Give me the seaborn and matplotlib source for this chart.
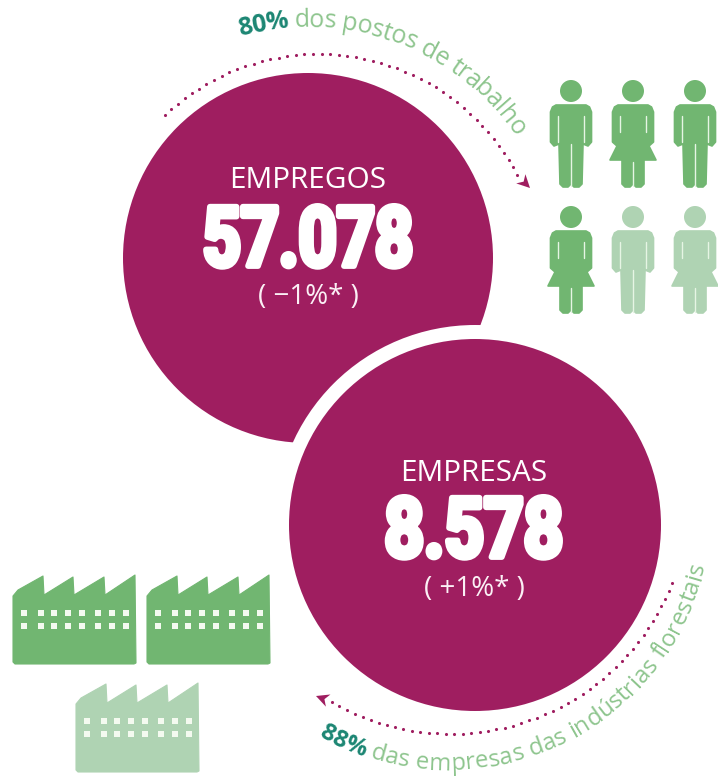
import numpy as np
import pandas as pd
import matplotlib
matplotlib.use("Agg")
import matplotlib.pyplot as plt
import matplotlib.patheffects as pe
from matplotlib.patches import Circle, Polygon
from matplotlib.transforms import Affine2D
from matplotlib.font_manager import FontProperties
from matplotlib.textpath import text_to_path
import seaborn as sns

# --- content ---
titles = ["EMPREGOS", "EMPRESAS"]
totals = ["57.078", "8.578"]
changes = ["( −1%* )", "( +1%* )"]
share_jobs = "80%"
share_firms = "88%"
caption_jobs = " dos postos de trabalho"
caption_firms = " das empresas das indústrias florestais"
people_kinds = ["m", "w", "m", "w", "m", "w"]
people_filled = [True, True, True, True, False, False]
factory_filled = [True, True, False]

# --- style ---
PURPLE = "#9F1E60"
GREEN = "#71B671"
PALE = "#AFD3B3"
CAPTION = "#8EC58E"
TEAL = "#1C8673"
BODY = ["Open Sans", "DejaVu Sans"]
BLACK = ["Roboto", "DejaVu Sans"]

sns.set_theme(style="white")
fig, ax = plt.subplots(figsize=(7.18, 7.78), dpi=100)
fig.subplots_adjust(0, 0, 1, 1)
ax.set_xlim(0, 718)
ax.set_ylim(778, 0)
ax.set_axis_off()


class Narrow(pe.AbstractPathEffect):
    """Condense a text's glyphs around a vertical line, with a white stroke."""

    def __init__(self, pivot, sx, stroke):
        super().__init__()
        self.pivot, self.sx, self.stroke = pivot, sx, stroke

    def draw_path(self, renderer, gc, tpath, affine, rgbFace=None):
        a = affine + Affine2D().translate(-self.pivot, 0).scale(self.sx, 1).translate(self.pivot, 0)
        gc0 = renderer.new_gc()
        gc0.copy_properties(gc)
        gc0.set_foreground("white")
        gc0.set_linewidth(self.stroke)
        gc0.set_joinstyle("round")
        renderer.draw_path(gc0, tpath, a, rgbFace)
        gc0.restore()


def circle3(p1, p2, p3):
    (a, b), (c, d), (e, f) = p1, p2, p3
    A = np.array([[2 * (c - a), 2 * (d - b)], [2 * (e - a), 2 * (f - b)]])
    y = np.array([c**2 + d**2 - a**2 - b**2, e**2 + f**2 - a**2 - b**2])
    cen = np.linalg.solve(A, y)
    return cen, float(np.hypot(*(np.array(p1) - cen)))


def advance(ch, prop, size):
    p = prop.copy()
    p.set_size(size)
    w = lambda s: text_to_path.get_text_width_height_descent(s, p, False)[0]
    return w("n" + ch + "n") - w("nn")


def curved(parts, p1, p2, p3, clockwise, size):
    cen, r = circle3(p1, p2, p3)
    t0 = np.arctan2(p1[1] - cen[1], p1[0] - cen[0])
    t1 = np.arctan2(p3[1] - cen[1], p3[0] - cen[0])
    sign = 1 if clockwise else -1
    span = (sign * (t1 - t0)) % (2 * np.pi)
    chars = []
    for text, color, weight in parts:
        prop = FontProperties(family=BODY, weight=weight)
        for ch in text:
            chars.append((ch, color, weight, advance(ch, prop, size) * 100 / 72))
    total = sum(c[3] for c in chars)
    k = span * r / total
    s = 0.0
    for ch, color, weight, adv in chars:
        mid = (s + adv / 2) * k
        t = t0 + sign * mid / r
        x, y = cen[0] + r * np.cos(t), cen[1] + r * np.sin(t)
        rot = -np.degrees(t + sign * np.pi / 2)
        ax.text(x, y, ch, color=color, fontsize=size, fontweight=weight,
                family=BODY, rotation=rot, rotation_mode="anchor",
                ha="center", va="baseline")
        s += adv


def dotted(p1, p2, p3, clockwise, tip):
    cen, r = circle3(p1, p2, p3)
    t0 = np.arctan2(p1[1] - cen[1], p1[0] - cen[0])
    t1 = np.arctan2(p3[1] - cen[1], p3[0] - cen[0])
    sign = 1 if clockwise else -1
    span = (sign * (t1 - t0)) % (2 * np.pi)
    n = int(span * r / 8.3)
    ts = t0 + sign * np.linspace(0, span, n)
    dots = pd.DataFrame({"x": cen[0] + r * np.cos(ts), "y": cen[1] + r * np.sin(ts)})
    sns.scatterplot(data=dots, x="x", y="y", ax=ax, color=PURPLE, s=5, linewidth=0,
                    legend=False, zorder=3)
    tip = np.array(tip, float)
    d = tip - np.array(p3, float)
    d /= np.hypot(*d)
    nrm = np.array([-d[1], d[0]])
    base = tip - d * 13
    ax.add_patch(Polygon([tip, base + nrm * 6.5, tip - d * 9, base - nrm * 6.5],
                         closed=True, fc=PURPLE, ec="none", zorder=3))


# --- discs ---
ax.add_patch(Circle((308, 258), 185, fc=PURPLE, ec="none", zorder=1))
ax.add_patch(Circle((475, 525), 200, fc="white", ec="none", zorder=2))
ax.add_patch(Circle((475, 525), 186, fc=PURPLE, ec="none", zorder=3))

for (cx, ty, ny, cy, sx), title, total, change in zip(
        [(308, 188, 266, 304, 0.80), (474, 481, 557, 596, 0.83)], titles, totals, changes):
    ax.text(cx, ty, title, color="white", fontsize=21.4, family=BODY, ha="center",
            va="baseline", zorder=5)
    pivot = ax.transData.transform((cx, 0))[0]
    ax.text(cx, ny, total, color="white", fontsize=60, fontweight="bold", family=BLACK,
            ha="center", va="baseline", zorder=5,
            path_effects=[Narrow(pivot, sx, 4.2)])
    ax.text(cx, cy, change, color="#FBF0F5", fontsize=20, family=BODY, ha="center",
            va="baseline", zorder=5)

# --- captions and arcs ---
curved([(share_jobs, TEAL, "bold"), (caption_jobs, CAPTION, "normal")],
       (240, 36), (317, 27), (515, 137), True, 18)
curved([(share_firms, TEAL, "bold"), (caption_firms, CAPTION, "normal")],
       (318, 736), (470, 769), (705, 565), False, 17.3)
dotted((165, 115), (297, 55), (517, 175), True, (530, 188))
dotted((672, 583), (480, 732), (332, 702), True, (316, 696))

# --- people ---
MAN = [(-15, 25), (15, 25), (18.5, 27), (20.5, 32), (20.5, 62), (17, 66), (12, 64), (11, 104),
       (8, 107), (3, 107), (0, 104), (-3, 107), (-8, 107), (-11, 104), (-12, 64), (-17, 66),
       (-20.5, 62), (-20.5, 32), (-18.5, 27)]
WOMAN = [(-15, 25), (15, 25), (18.5, 27), (20.5, 32), (20.5, 62), (16, 66), (23, 80), (11, 80),
         (11, 104), (8, 107), (3, 107), (0, 104), (-3, 107), (-8, 107), (-11, 104), (-11, 80),
         (-23, 80), (-16, 66), (-20.5, 62), (-20.5, 32), (-18.5, 27)]
people_xy = [(571, 80), (633, 80), (695, 80), (571, 206), (633, 206), (695, 206)]
for (px, py), kind, filled in zip(people_xy, people_kinds, people_filled):
    col = GREEN if filled else PALE
    ax.add_patch(Circle((px, py + 11), 11, fc=col, ec="none"))
    pts = np.array(MAN if kind == "m" else WOMAN, float) + (px, py)
    ax.add_patch(Polygon(pts, closed=True, fc=col, ec=col, lw=1.2, joinstyle="round"))
    for dx in (-13, 13):
        ax.plot([px + dx, px + dx], [py + 36, py + (62 if kind == "m" else 52)],
                color="#E6F5E4", lw=1)
    ax.plot([px, px], [py + (64 if kind == "m" else 82), py + 106], color="#E6F5E4", lw=1)

# --- factories ---
FACTORY = [(0, 21), (5, 15), (30, 1), (31, 20), (60, 2), (61, 20), (91, 2), (92, 20),
           (122, 0), (123, 88), (121, 89), (2, 89), (0, 87)]
WIN_X = [11, 27.7, 41.3, 55.3, 69.3, 85.3, 99.3, 113]
WIN_Y = [38, 51]
factories_xy = [(13, 575), (147, 575), (76, 683)]
for (fx, fy), filled in zip(factories_xy, factory_filled):
    col = GREEN if filled else PALE
    ax.add_patch(Polygon(np.array(FACTORY, float) + (fx, fy), closed=True, fc=col, ec=col,
                         lw=0.8, joinstyle="round"))
    grid = pd.DataFrame([(fx + x, fy + y) for x in WIN_X for y in WIN_Y], columns=["x", "y"])
    sns.scatterplot(data=grid, x="x", y="y", ax=ax, marker="s", color="#F4FAF0", s=13,
                    linewidth=0, legend=False, zorder=3)

ax.set_xlim(0, 718)
ax.set_ylim(778, 0)
ax.set_axis_off()
fig.savefig("out.png", dpi=100, facecolor="white")
